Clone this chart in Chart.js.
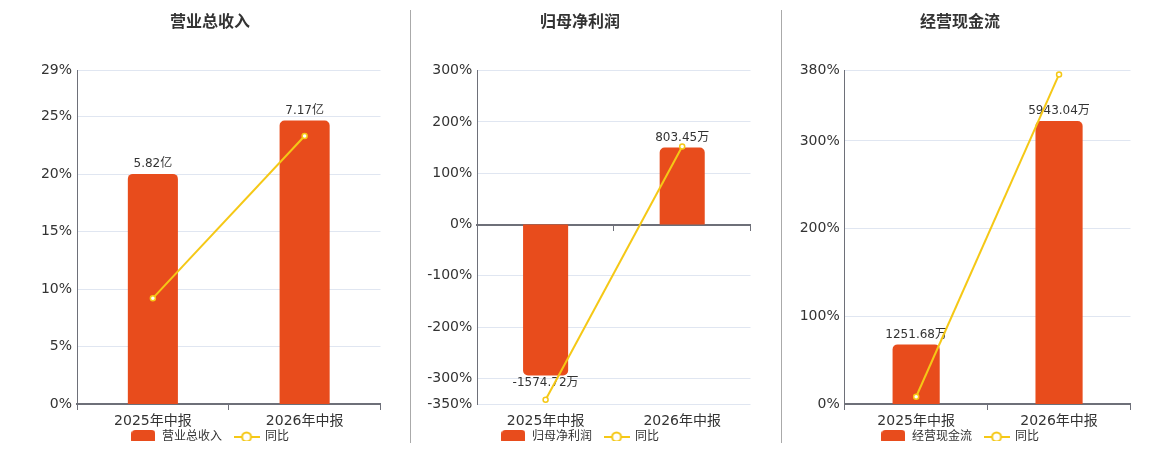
<!DOCTYPE html>
<html>
<head>
<meta charset="utf-8">
<script src="https://cdn.jsdelivr.net/npm/chart.js@4/dist/chart.umd.min.js"></script>
<style>
  body { margin: 0; background: #fff; width: 1160px; height: 450px; overflow: hidden; position: relative; }
  canvas { position: absolute; top: 0; }
  .sep { position: absolute; top: 10px; width: 1px; height: 433px; background: #aaa; }
</style>
</head>
<body>
<canvas id="c1" width="346" height="450" style="left:40px"></canvas>
<div class="sep" style="left:410px"></div>
<canvas id="c2" width="346" height="450" style="left:410px"></canvas>
<div class="sep" style="left:781px"></div>
<canvas id="c3" width="346" height="450" style="left:790px"></canvas>
<script>
const periods = ['2025年中报', '2026年中报'];

const revenue = [5.82, 7.17];          // 亿
const revenueYoy = [9.21, 23.32];      // %
const revenueTicks = [0, 5, 10, 15, 20, 25, 29];
const revenueBarRange = [0, 8.43];

const netProfit = [-1574.72, 803.45];  // 万
const netProfitYoy = [-341.6, 152];
const netProfitTicks = [-350, -300, -200, -100, 0, 100, 200, 300];
const netProfitBarRange = [-1872, 1604];

const cashFlow = [1251.68, 5943.04];   // 万
const cashFlowYoy = [8.3, 375.8];
const cashFlowTicks = [0, 100, 200, 300, 380];
const cashFlowBarRange = [0, 7000];

const BAR = '#e84c1c';
const LINE = '#f5c816';
const FONT = "'DejaVu Sans', 'Noto Sans CJK SC', sans-serif";

// legend icons
const barIcon = document.createElement('canvas');
barIcon.width = 24; barIcon.height = 14;
(function () {
  const g = barIcon.getContext('2d');
  g.fillStyle = BAR;
  g.beginPath();
  g.roundRect(0, 0, 24, 14, 4);
  g.fill();
})();
const lineIcon = document.createElement('canvas');
lineIcon.width = 26; lineIcon.height = 14;
(function () {
  const g = lineIcon.getContext('2d');
  g.strokeStyle = LINE;
  g.lineWidth = 2;
  g.beginPath(); g.moveTo(0, 7); g.lineTo(26, 7); g.stroke();
  g.fillStyle = '#fff';
  g.beginPath(); g.arc(13, 7, 4.5, 0, Math.PI * 2); g.fill(); g.stroke();
})();

const barLabels = {
  id: 'barLabels',
  afterDatasetDraw(chart, args, opts) {
    if (args.index !== 0) return;
    const ctx = chart.ctx;
    const ds = chart.data.datasets[0];
    ctx.save();
    ctx.font = '12px ' + FONT;
    ctx.fillStyle = '#333';
    ctx.textAlign = 'center';
    args.meta.data.forEach((bar, i) => {
      const v = ds.data[i];
      const text = v.toFixed(2) + opts.unit;
      if (v >= 0) {
        ctx.textBaseline = 'bottom';
        ctx.fillText(text, bar.x, bar.y - 4);
      } else {
        ctx.textBaseline = 'top';
        ctx.fillText(text, bar.x, bar.y + 1);
      }
    });
    ctx.restore();
  }
};

// pull the legend up closer to the axis labels
const legendLift = {
  id: 'legendLift',
  afterLayout(chart) {
    chart.legend.top -= 9;
    chart.legend.bottom -= 9;
  }
};

function makeChart(id, title, name, bars, yoy, ticks, barRange, unit, axisWidth) {
  return new Chart(document.getElementById(id), {
    data: {
      labels: periods,
      datasets: [
        {
          type: 'bar',
          label: name,
          data: bars,
          yAxisID: 'y1',
          backgroundColor: BAR,
          borderRadius: 5,
          categoryPercentage: 1,
          barPercentage: 0.33,
          order: 1
        },
        {
          type: 'line',
          label: '同比',
          data: yoy,
          yAxisID: 'y',
          borderColor: LINE,
          borderWidth: 2,
          pointRadius: 2.5,
          pointBorderWidth: 1.5,
          pointBackgroundColor: '#fff',
          pointBorderColor: LINE,
          tension: 0,
          order: 0
        }
      ]
    },
    options: {
      responsive: false,
      animation: false,
      layout: { padding: { top: 0, bottom: 0, left: -6, right: 0 } },
      plugins: {
        tooltip: { enabled: false },
        title: {
          display: true,
          text: title,
          color: '#333',
          font: { family: FONT, size: 16, weight: 'bold' },
          padding: { top: 13, bottom: 38.5 }
        },
        legend: {
          position: 'bottom',
          maxHeight: 22,
          labels: {
            usePointStyle: true,
            pointStyleWidth: 25,
            padding: 12,
            color: '#333',
            font: { family: FONT, size: 12 },
            generateLabels: () => [
              { text: name, pointStyle: barIcon, datasetIndex: 0, fontColor: '#333', lineWidth: 0, hidden: false },
              { text: '同比', pointStyle: lineIcon, datasetIndex: 1, fontColor: '#333', lineWidth: 0, hidden: false }
            ]
          }
        },
        barLabels: { unit: unit }
      },
      scales: {
        x: {
          type: 'category',
          offset: true,
          grid: { display: false, drawTicks: false, offset: true },
          border: { display: false },
          ticks: { color: '#333', font: { family: FONT, size: 14 }, padding: 8.5 },
          afterFit: (s) => { s.height = 24; }
        },
        x2: {
          type: 'category',
          labels: periods,
          position: { y: 0 },
          offset: true,
          grid: { drawOnChartArea: false, drawTicks: true, tickLength: 5, color: '#6e7079', offset: true },
          border: { display: true, color: '#6e7079', width: 2 },
          ticks: { display: false }
        },
        y: {
          type: 'linear',
          position: 'left',
          min: ticks[0],
          max: ticks[ticks.length - 1],
          grid: { color: '#e0e6f1', drawTicks: false },
          border: { display: true, color: '#6e7079', width: 1 },
          ticks: {
            color: '#333',
            font: { family: FONT, size: 14 },
            padding: 5,
            callback: (v) => v + '%'
          },
          afterBuildTicks: (s) => { s.ticks = ticks.map(v => ({ value: v })); },
          afterFit: (s) => { s.width = axisWidth + 6; }
        },
        y1: {
          type: 'linear',
          display: false,
          min: barRange[0],
          max: barRange[1]
        }
      }
    },
    plugins: [barLabels, legendLift]
  });
}

makeChart('c1', '营业总收入', '营业总收入', revenue, revenueYoy, revenueTicks, revenueBarRange, '亿', 37);
makeChart('c2', '归母净利润', '归母净利润', netProfit, netProfitYoy, netProfitTicks, netProfitBarRange, '万', 67.3);
makeChart('c3', '经营现金流', '经营现金流', cashFlow, cashFlowYoy, cashFlowTicks, cashFlowBarRange, '万', 54.7);
</script>
</body>
</html>
